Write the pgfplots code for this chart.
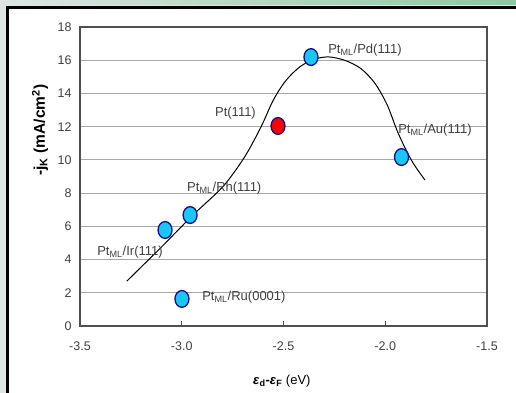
\documentclass[border=0pt]{standalone}
\usepackage{pgfplots}
\pgfplotsset{compat=1.18}
\usepackage{fontspec}
\setmainfont{Liberation Sans}
\definecolor{bgout}{HTML}{DDE6E2}
\definecolor{stripg}{HTML}{8CC8A0}
\definecolor{cyanfill}{HTML}{1AC6F5}
\definecolor{navyedge}{HTML}{10108A}
\definecolor{txt}{HTML}{404040}
\definecolor{axcol}{HTML}{505050}
\definecolor{gridc}{HTML}{A8A8A8}
\begin{document}
\begin{tikzpicture}[x=1pt,y=1pt]
\useasboundingbox (0,0) rectangle (516,393);
\fill[bgout] (0,0) rectangle (516,393);
\shade[left color=bgout,right color=stripg] (0,388) rectangle (516,393);
\fill[black] (6,0) rectangle (516,387);
\fill[white] (9,0) rectangle (516,384);
\begin{axis}[
  scale only axis, width=407pt, height=299pt,
  at={(80pt,67pt)}, anchor=south west,
  xmin=-3.5, xmax=-1.5, ymin=0, ymax=18,
  xtick={-3.5,-3,-2.5,-2,-1.5},
  xticklabels={-3.5,-3.0,-2.5,-2.0,-1.5},
  ytick={0,2,4,6,8,10,12,14,16,18},
  yticklabels={0,2,4,6,8,10,12,14,16,18},
  xtick pos=lower, ytick pos=left,
  tick align=inside,
  y tick style={draw=none},
  x tick style={axcol, line width=1pt},
  major tick length=5pt,
  ymajorgrids,
  major grid style={gridc, line width=1pt},
  axis line style={axcol, line width=1.5pt},
  ticklabel style={font=\fontsize{12.5}{14}\selectfont, text=txt},
  xticklabel style={yshift=-12pt},
  yticklabel style={xshift=-5pt},
  clip=false,
  xlabel={\textbf{\textit{ε}\textsubscript{d}-\textit{ε}\textsubscript{F}} (eV)},
  xlabel style={at={(axis description cs:0.496,-0.184)}, anchor=center, font=\fontsize{13}{15}\selectfont, text=black},
  ylabel={\textbf{-j\textsubscript{K} (mA/cm\textsuperscript{2})}},
  ylabel style={at={(axis description cs:-0.098,0.655)}, anchor=center, font=\fontsize{15.5}{17}\selectfont, text=black},
]
% markers
\addplot[only marks, mark=*, mark size=7pt, mark options={yscale=1.2, fill=cyanfill, draw=navyedge, line width=1.3pt}]
  coordinates {(-3.082,5.78) (-2.959,6.68) (-2.999,1.63) (-2.365,16.19) (-1.92,10.17)};
\addplot[only marks, mark=*, mark size=7pt, mark options={yscale=1.2, fill=red, draw=navyedge, line width=1.3pt}]
  coordinates {(-2.527,12.04)};
% fitted curve
\addplot[smooth, black, line width=1pt] coordinates {
 (-3.27,2.7) (-3.1,4.75) (-2.945,6.68) (-2.797,8.4) (-2.69,10.2)
 (-2.61,12.0) (-2.55,13.6) (-2.49,14.75) (-2.42,15.6) (-2.35,16.05) (-2.28,16.2)
 (-2.20,16.0) (-2.12,15.5) (-2.05,14.6) (-1.99,13.3)
 (-1.937,11.62) (-1.87,9.95) (-1.805,8.79)};
% labels
\begin{scope}[every node/.style={anchor=west, inner sep=0pt, text=txt, font=\fontsize{13}{15}\selectfont}]
\node at (axis cs:-2.281,16.62) {Pt\textsubscript{ML}/Pd(111)};
\node at (axis cs:-2.837,12.82) {Pt(111)};
\node at (axis cs:-1.937,11.8) {Pt\textsubscript{ML}/Au(111)};
\node at (axis cs:-2.974,8.31) {Pt\textsubscript{ML}/Rh(111)};
\node at (axis cs:-3.416,4.45) {Pt\textsubscript{ML}/Ir(111)};
\node at (axis cs:-2.9,1.75) {Pt\textsubscript{ML}/Ru(0001)};
\end{scope}
\end{axis}
\end{tikzpicture}
\end{document}
